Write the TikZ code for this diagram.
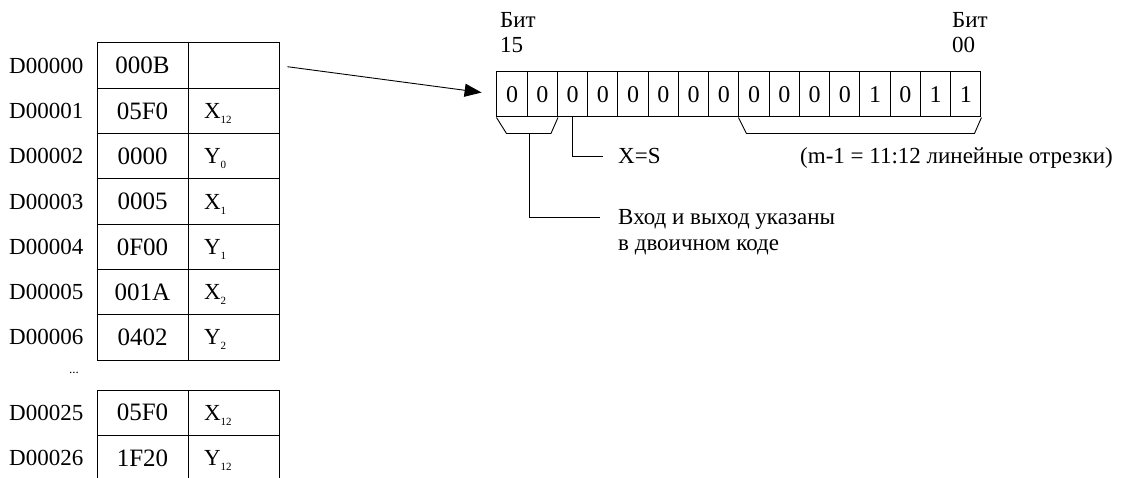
\documentclass[tikz,border=0pt]{standalone}
\usepackage{fontspec}
\setmainfont{Liberation Serif}
\usetikzlibrary{arrows.meta,positioning}

\newcommand{\lowidx}[1]{\raisebox{-5pt}[0pt][0pt]{\fontsize{11}{11}\selectfont #1}}

\begin{document}
\begin{tikzpicture}[x=1pt,y=-1pt,
  cell/.style={draw, line width=1pt, minimum width=91pt, minimum height=45.3pt, inner sep=0pt},
  hexcell/.style={cell, font=\fontsize{25}{28}\selectfont},
  varcell/.style={cell, text width=59pt, align=left, font=\fontsize{23}{26}\selectfont},
  bitcell/.style={draw, line width=1pt, minimum width=30.25pt, minimum height=45pt, inner sep=0pt, font=\fontsize{24}{26}\selectfont},
  addr/.style={inner sep=0pt, font=\fontsize{23}{26}\selectfont},
  note/.style={inner sep=0pt, font=\fontsize{23}{26}\selectfont},
  lead/.style={line width=0.9pt},
  pointer/.style={line width=0.9pt, -{Triangle[length=17pt, width=13pt]}}]
\useasboundingbox (0,0) rectangle (1131,478);

% data table
\foreach \addr/\hex/\var [count=\r from 0] in {D00000/000B/{},
    D00001/05F0/{X\lowidx{12}}, D00002/0000/{Y\lowidx{0}},
    D00003/0005/{X\lowidx{1}}, D00004/0F00/{Y\lowidx{1}},
    D00005/001A/{X\lowidx{2}}, D00006/0402/{Y\lowidx{2}}}{
  \node[hexcell] (h\r) at (142.5,65.65+45.3*\r) {\hex};
  \node[varcell] (v\r) at (233.5,65.65+45.3*\r) {\var};
  \node[addr, left=13pt of h\r] (a\r) {\addr};
}
\node[font=\fontsize{13}{13}\selectfont] (dots) at (74,373) {...};
\node[hexcell] (h25) at (142.5,412.65) {05F0};
\node[varcell] (v25) at (233.5,412.65) {X\lowidx{12}};
\node[addr, left=13pt of h25] (a25) {D00025};
\node[hexcell] (h26) at (142.5,457.95) {1F20};
\node[varcell] (v26) at (233.5,457.95) {Y\lowidx{12}};
\node[addr, left=13pt of h26] (a26) {D00026};

% bit word, bit 15 on the left
\foreach \v [count=\i from 0] in {0,0,0,0,0,0,0,0,0,0,0,0,1,0,1,1}
  \node[bitcell] (b\i) at (512.1+30.25*\i,94.5) {\v};
\node[note, anchor=base west] (hibit) at (500,28) {Бит};
\node[note, anchor=base west] (hinum) at (500,53) {15};
\node[note, anchor=base west] (lobit) at (952,28) {Бит};
\node[note, anchor=base west] (lonum) at (952,53) {00};

\draw[pointer, shorten <=8pt, shorten >=15pt] (v0.east) -- (b0.west);

% brackets
\draw[lead] (b0.south west) -- ++(10,16) -- ([xshift=-7pt,yshift=-16pt]b1.south east) -- (b1.south east);
\draw[lead] (b8.south west) -- ++(8,16) -- ([xshift=-7pt,yshift=-16pt]b15.south east) -- (b15.south east);
\coordinate (iom) at ([xshift=2pt,yshift=-16pt]b0.south east);

% notes
\node[note, anchor=base west] (xs) at (618,164) {X=S};
\node[note, anchor=base west] (seg) at (800,164) {(m-1 = 11:12 линейные отрезки)};
\node[note, anchor=base west] (io) at (618,225) {Вход и выход указаны};
\node[note, anchor=base west] (iocode) at (618,250) {в двоичном коде};
\draw[lead] (b2.south) |- ([xshift=-15pt,yshift=8pt]xs.base west);
\draw[lead] (iom) |- ([xshift=-18pt,yshift=8pt]io.base west);
\end{tikzpicture}
\end{document}
